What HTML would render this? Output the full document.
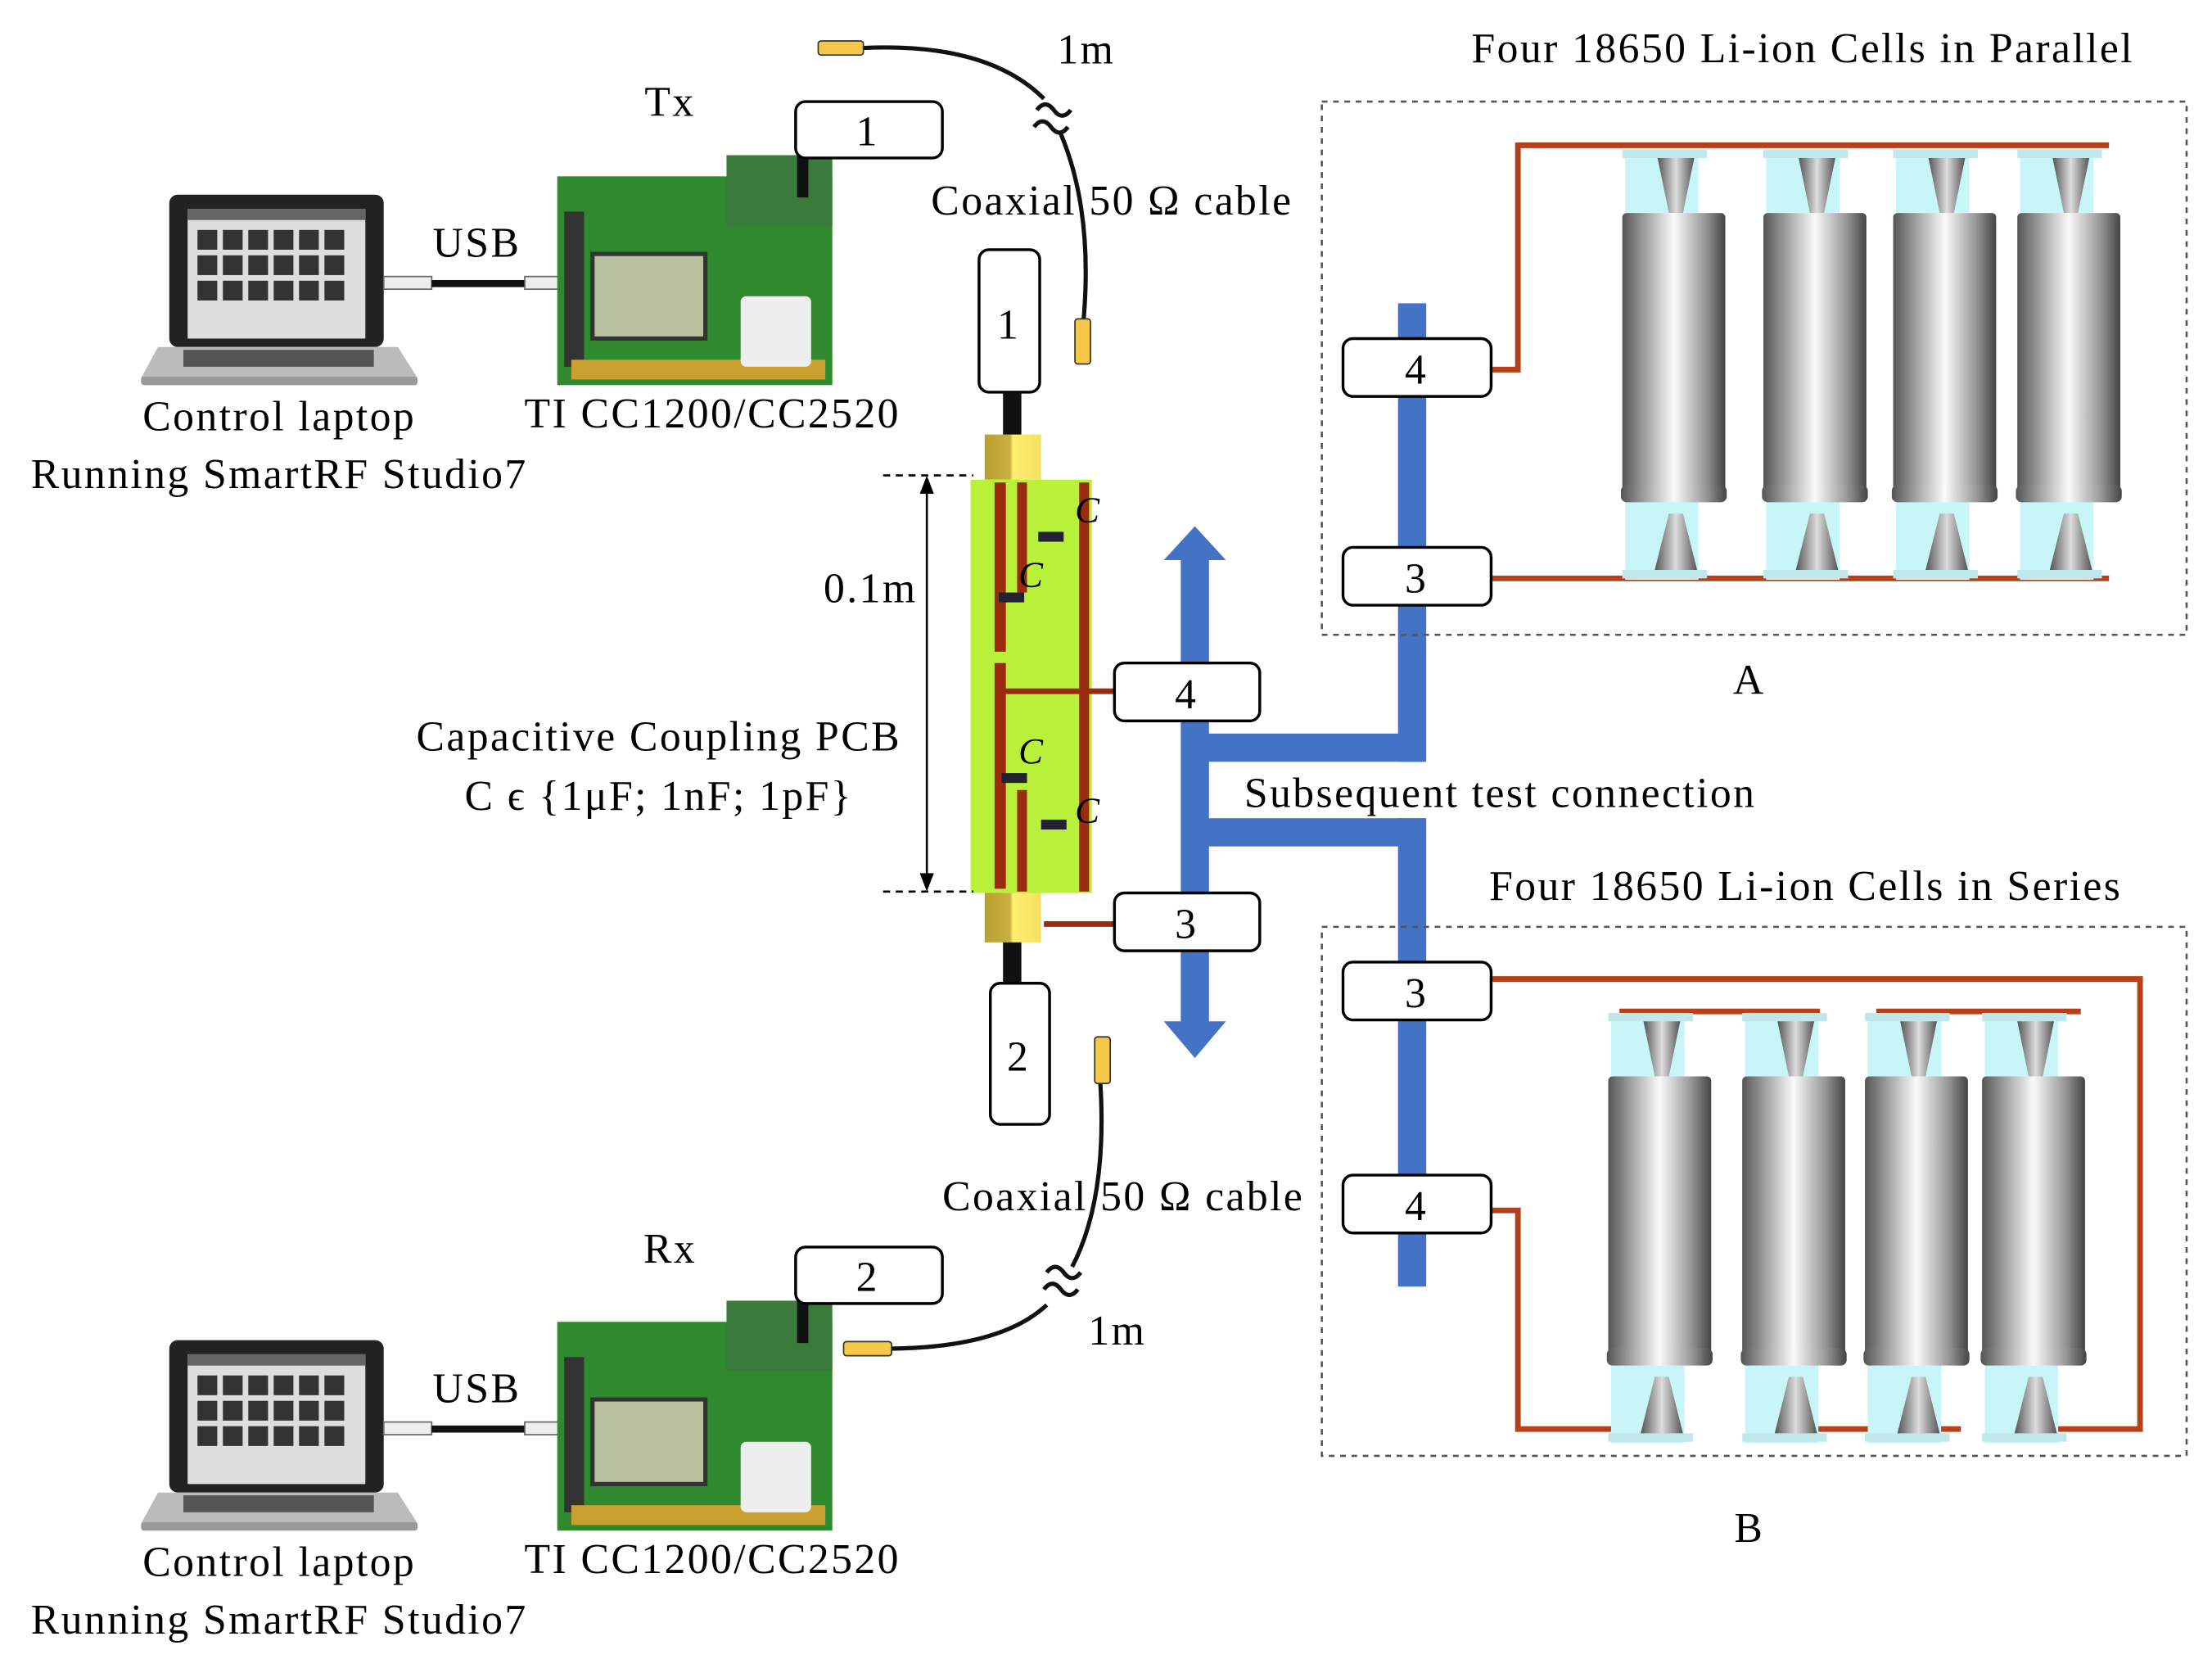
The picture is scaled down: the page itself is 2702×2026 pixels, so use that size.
<!DOCTYPE html>
<html><head><meta charset="utf-8"><style>
html,body{margin:0;padding:0;background:#fff}
svg{display:block}
text{font-family:"Liberation Serif",serif;fill:#000;letter-spacing:1.4px}
</style></head><body>
<svg width="2702" height="2026" viewBox="0 0 1568 1176" preserveAspectRatio="none" xmlns="http://www.w3.org/2000/svg">
<defs>
<linearGradient id="cyl" x1="0" x2="1" y1="0" y2="0">
<stop offset="0" stop-color="#555"/><stop offset="0.25" stop-color="#aaa"/><stop offset="0.5" stop-color="#fafafa"/><stop offset="0.8" stop-color="#999"/><stop offset="1" stop-color="#444"/>
</linearGradient>
<linearGradient id="cone" x1="0" x2="1"><stop offset="0" stop-color="#555"/><stop offset="0.5" stop-color="#ddd"/><stop offset="1" stop-color="#555"/></linearGradient>
<linearGradient id="gold" x1="0" x2="1"><stop offset="0" stop-color="#b8a030"/><stop offset="0.45" stop-color="#c9b040"/><stop offset="0.5" stop-color="#ffee70"/><stop offset="1" stop-color="#f5e060"/></linearGradient>
<g id="cell">
<rect x="-38" y="0" width="52" height="45" fill="#c8f6f8"/>
<rect x="-38" y="250" width="52" height="55" fill="#c8f6f8"/>
<rect x="-40" y="0" width="60" height="6" fill="#bfe8ea"/>
<rect x="-40" y="298" width="60" height="6" fill="#bfe8ea"/>
<polygon points="-15,6 11,6 3,45 -7,45" fill="url(#cone)"/>
<polygon points="-7,258 3,258 13,298 -17,298" fill="url(#cone)"/>
<rect x="-40" y="45" width="73" height="200" rx="3" fill="url(#cyl)"/>
<rect x="-41" y="238" width="75" height="12" rx="4" fill="url(#cyl)"/>
</g>
<g id="laptop">
<rect x="120" y="138" width="152" height="108" rx="6" fill="#222"/>
<rect x="133" y="148" width="126" height="92" fill="#ddd"/>
<rect x="133" y="148" width="126" height="8" fill="#666"/>
<g fill="#333">
<rect x="140" y="163" width="14" height="14"/><rect x="158" y="163" width="14" height="14"/><rect x="176" y="163" width="14" height="14"/><rect x="194" y="163" width="14" height="14"/><rect x="212" y="163" width="14" height="14"/><rect x="230" y="163" width="14" height="14"/>
<rect x="140" y="181" width="14" height="14"/><rect x="158" y="181" width="14" height="14"/><rect x="176" y="181" width="14" height="14"/><rect x="194" y="181" width="14" height="14"/><rect x="212" y="181" width="14" height="14"/><rect x="230" y="181" width="14" height="14"/>
<rect x="140" y="199" width="14" height="14"/><rect x="158" y="199" width="14" height="14"/><rect x="176" y="199" width="14" height="14"/><rect x="194" y="199" width="14" height="14"/><rect x="212" y="199" width="14" height="14"/><rect x="230" y="199" width="14" height="14"/>
</g>
<polygon points="112,246 282,246 296,268 100,268" fill="#bbb"/>
<rect x="130" y="248" width="135" height="12" fill="#555"/>
<rect x="100" y="267" width="196" height="6" rx="2" fill="#999"/>
<rect x="272" y="196" width="34" height="9" fill="#eee" stroke="#666"/>
<line x1="306" y1="201" x2="372" y2="201" stroke="#111" stroke-width="5"/>
<rect x="372" y="196" width="30" height="9" fill="#eee" stroke="#666"/>
<rect x="395" y="125" width="195" height="148" fill="#2f8a2f"/>
<rect x="515" y="110" width="75" height="50" fill="#3a7a3a"/>
<rect x="420" y="180" width="80" height="60" fill="#b8c0a0" stroke="#333" stroke-width="3"/>
<rect x="400" y="150" width="14" height="110" fill="#333"/>
<rect x="405" y="255" width="180" height="14" fill="#c9a030"/>
<rect x="525" y="210" width="50" height="50" fill="#eee" rx="4"/>
<rect x="565" y="110" width="8" height="30" fill="#111"/>
</g>
</defs>

<use href="#laptop"/>
<text x="475" y="82" font-size="30" text-anchor="middle">Tx</text>
<text x="338" y="182" font-size="30" text-anchor="middle">USB</text>
<rect x="564" y="72" width="104" height="40" rx="7" fill="#fff" stroke="#000" stroke-width="2"/>
<text x="615" y="103" font-size="30" text-anchor="middle">1</text>
<text x="198" y="305" font-size="30" text-anchor="middle">Control  laptop</text>
<text x="198" y="346" font-size="30" text-anchor="middle">Running  SmartRF  Studio7</text>
<text x="505" y="303" font-size="30" text-anchor="middle">TI CC1200/CC2520</text>

<use href="#laptop" y="812"/>
<text x="475" y="895" font-size="30" text-anchor="middle">Rx</text>
<text x="338" y="994" font-size="30" text-anchor="middle">USB</text>
<rect x="564" y="884" width="104" height="40" rx="7" fill="#fff" stroke="#000" stroke-width="2"/>
<text x="615" y="915" font-size="30" text-anchor="middle">2</text>
<text x="198" y="1117" font-size="30" text-anchor="middle">Control  laptop</text>
<text x="198" y="1158" font-size="30" text-anchor="middle">Running  SmartRF  Studio7</text>
<text x="505" y="1115" font-size="30" text-anchor="middle">TI CC1200/CC2520</text>

<path d="M612,34 Q700,30 740,70" fill="none" stroke="#111" stroke-width="3"/>
<path d="M752,95 Q775,150 768,228" fill="none" stroke="#111" stroke-width="3"/>
<path d="M735,78 q6,-8 12,0 q6,8 12,0 M733,90 q6,-8 12,0 q6,8 12,0" fill="none" stroke="#111" stroke-width="3"/>
<rect x="580" y="29" width="32" height="10" rx="2" fill="#f5c84a" stroke="#333"/>
<rect x="762" y="226" width="11" height="32" rx="2" fill="#f5c84a" stroke="#333"/>
<text x="770" y="45" font-size="30" text-anchor="middle">1m</text>
<text x="660" y="152" font-size="30">Coaxial 50 Ω cable</text>

<path d="M632,956 Q710,955 742,925" fill="none" stroke="#111" stroke-width="3"/>
<path d="M760,898 Q785,850 780,768" fill="none" stroke="#111" stroke-width="3"/>
<path d="M742,902 q6,-8 12,0 q6,8 12,0 M740,914 q6,-8 12,0 q6,8 12,0" fill="none" stroke="#111" stroke-width="3"/>
<rect x="598" y="951" width="34" height="10" rx="2" fill="#f5c84a" stroke="#333"/>
<rect x="776" y="735" width="11" height="33" rx="2" fill="#f5c84a" stroke="#333"/>
<text x="792" y="953" font-size="30" text-anchor="middle">1m</text>
<text x="668" y="858" font-size="30">Coaxial 50 Ω cable</text>

<rect x="694" y="177" width="43" height="101" rx="7" fill="#fff" stroke="#000" stroke-width="2"/>
<text x="715" y="240" font-size="30" text-anchor="middle">1</text>
<rect x="711" y="278" width="13" height="32" fill="#111"/>
<rect x="698" y="308" width="40" height="32" fill="url(#gold)"/>
<rect x="688" y="340" width="86" height="293" fill="#b8f03a"/>
<g fill="#9a2a10">
<rect x="705" y="342" width="8" height="120"/>
<rect x="721" y="342" width="7" height="78"/>
<rect x="765" y="342" width="7" height="290"/>
<rect x="705" y="470" width="8" height="160"/>
<rect x="712" y="488" width="80" height="4"/>
<rect x="721" y="560" width="7" height="72"/>
</g>
<rect x="736" y="377" width="18" height="7" fill="#223"/>
<rect x="708" y="420" width="18" height="7" fill="#223"/>
<rect x="710" y="548" width="18" height="7" fill="#223"/>
<rect x="738" y="581" width="18" height="7" fill="#223"/>
<text x="762" y="370" font-size="26" font-style="italic">C</text>
<text x="722" y="416" font-size="26" font-style="italic">C</text>
<text x="722" y="541" font-size="26" font-style="italic">C</text>
<text x="762" y="583" font-size="26" font-style="italic">C</text>
<rect x="698" y="633" width="40" height="35" fill="url(#gold)"/>
<rect x="711" y="668" width="13" height="30" fill="#111"/>
<rect x="702" y="697" width="42" height="100" rx="7" fill="#fff" stroke="#000" stroke-width="2"/>
<text x="722" y="759" font-size="30" text-anchor="middle">2</text>
<path d="M740,655 H790" stroke="#9a2a10" stroke-width="4"/>

<line x1="626" y1="337" x2="690" y2="337" stroke="#000" stroke-width="1.5" stroke-dasharray="5,4"/>
<line x1="626" y1="632" x2="690" y2="632" stroke="#000" stroke-width="1.5" stroke-dasharray="5,4"/>
<line x1="657" y1="342" x2="657" y2="627" stroke="#000" stroke-width="1.5"/>
<polygon points="657,337 652,350 662,350" fill="#000"/>
<polygon points="657,632 652,619 662,619" fill="#000"/>
<text x="617" y="427" font-size="30" text-anchor="middle">0.1m</text>
<text x="467" y="532" font-size="30" text-anchor="middle">Capacitive  Coupling  PCB</text>
<text x="467" y="574" font-size="30" text-anchor="middle">C ϵ {1μF; 1nF; 1pF}</text>

<g fill="#4472c4">
<rect x="837" y="395" width="20" height="330"/>
<polygon points="847,373 825,397 869,397"/>
<polygon points="847,750 825,724 869,724"/>
<rect x="847" y="520" width="163" height="20"/>
<rect x="991" y="215" width="20" height="325"/>
<rect x="847" y="580" width="163" height="20"/>
<rect x="991" y="580" width="20" height="332"/>
</g>
<text x="882" y="572" font-size="30">Subsequent test connection</text>

<rect x="790" y="470" width="103" height="41" rx="7" fill="#fff" stroke="#000" stroke-width="2"/>
<text x="841" y="502" font-size="30" text-anchor="middle">4</text>
<rect x="790" y="633" width="103" height="41" rx="7" fill="#fff" stroke="#000" stroke-width="2"/>
<text x="841" y="665" font-size="30" text-anchor="middle">3</text>

<text x="1278" y="44" font-size="30" text-anchor="middle">Four 18650 Li-ion Cells in Parallel</text>
<rect x="937" y="72" width="613" height="378" fill="none" stroke="#555" stroke-width="1.5" stroke-dasharray="4,4"/>
<text x="1240" y="492" font-size="30" text-anchor="middle">A</text>
<path d="M1057,262 H1076 V103 H1495" fill="none" stroke="#b5401a" stroke-width="4"/>
<path d="M1057,410 H1495" fill="none" stroke="#b5401a" stroke-width="4"/>
<use href="#cell" x="1190" y="106"/>
<use href="#cell" x="1290" y="106"/>
<use href="#cell" x="1382" y="106"/>
<use href="#cell" x="1470" y="106"/>
<rect x="952" y="240" width="105" height="41" rx="7" fill="#fff" stroke="#000" stroke-width="2"/>
<text x="1004" y="272" font-size="30" text-anchor="middle">4</text>
<rect x="952" y="388" width="105" height="41" rx="7" fill="#fff" stroke="#000" stroke-width="2"/>
<text x="1004" y="420" font-size="30" text-anchor="middle">3</text>

<text x="1280" y="638" font-size="30" text-anchor="middle">Four 18650 Li-ion Cells in Series</text>
<rect x="937" y="657" width="613" height="375" fill="none" stroke="#555" stroke-width="1.5" stroke-dasharray="4,4"/>
<text x="1240" y="1093" font-size="30" text-anchor="middle">B</text>
<path d="M1057,694 H1517 V1013 H1425" fill="none" stroke="#b5401a" stroke-width="4"/>
<path d="M1057,858 H1076 V1013 H1160" fill="none" stroke="#b5401a" stroke-width="4"/>
<path d="M1148,717 H1290 M1240,1013 H1390 M1330,717 H1475" fill="none" stroke="#b5401a" stroke-width="4"/>
<use href="#cell" x="1180" y="718"/>
<use href="#cell" x="1275" y="718"/>
<use href="#cell" x="1362" y="718"/>
<use href="#cell" x="1445" y="718"/>
<rect x="952" y="682" width="105" height="41" rx="7" fill="#fff" stroke="#000" stroke-width="2"/>
<text x="1004" y="714" font-size="30" text-anchor="middle">3</text>
<rect x="952" y="833" width="105" height="41" rx="7" fill="#fff" stroke="#000" stroke-width="2"/>
<text x="1004" y="865" font-size="30" text-anchor="middle">4</text>
</svg>
</body></html>
